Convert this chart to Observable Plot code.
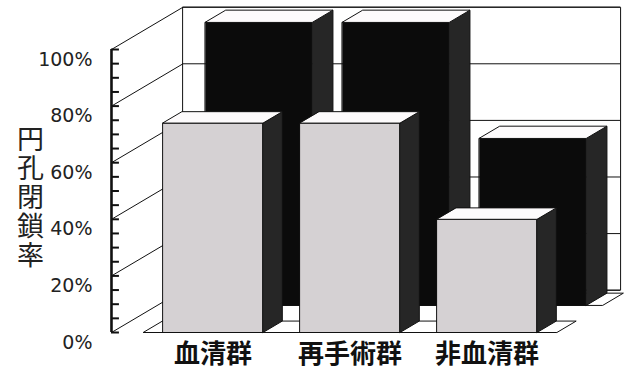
<!DOCTYPE html>
<html><head><meta charset="utf-8">
<script src="https://cdn.jsdelivr.net/npm/d3@7"></script>
<script src="https://cdn.jsdelivr.net/npm/@observablehq/plot@0.6"></script>
<style>body{margin:0;background:#fff}</style>
</head><body><div id="chart"></div>
<script>
// ---- data ----
const categories = ["血清群", "再手術群", "非血清群"];
const frontSeries = [74, 74, 40];    // light dotted bars (front row)
const backSeries = [100, 100, 59];   // black bars (back row)
const yTicks = [0, 20, 40, 60, 80, 100];
const yMinorTicks = [0, 5, 10, 15, 20, 25, 30, 35, 40, 45, 50, 55, 60, 65, 70, 75, 80, 85, 90, 95, 100];
const yTitle = "円孔閉鎖率";

// ---- 3D layout in scale units (category units / percent) ----
const AXIS_C = -0.741, WALL_RIGHT_C = 2.453;
const DEPTH_C = 0.522, DEPTH_V = 14.95;
const FLOOR_L = -0.507, FLOOR_R = 2.51;
const TICK_LEN = 0.058;
const proj = ([c, v, d]) => ({X: c + d * DEPTH_C, Y: v + d * DEPTH_V});

function box(id, c, half, v, d0, d1, fills) {
  const a = c - half, b = c + half;
  return [
    {id: id + "f", fill: fills.front, pts: [[a,0,d0],[b,0,d0],[b,v,d0],[a,v,d0]]},
    {id: id + "s", fill: fills.side,  pts: [[b,0,d0],[b,0,d1],[b,v,d1],[b,v,d0]]},
    {id: id + "t", fill: fills.top,   pts: [[a,v,d0],[b,v,d0],[b,v,d1],[a,v,d1]]}
  ];
}
function strip(id, d0, d1) {
  return [{id, fill: "#ffffff", pts: [[FLOOR_L,0,d0],[FLOOR_R,0,d0],[FLOOR_R,0,d1],[FLOOR_L,0,d1]]}];
}
const toPts = faces => faces.flatMap(f => f.pts.map(p => ({...proj(p), id: f.id, fill: f.fill})));

const wall = [{id: "wall", fill: "#ffffff", pts: [[AXIS_C,0,1],[WALL_RIGHT_C,0,1],[WALL_RIGHT_C,100,1],[AXIS_C,100,1]]}];
const backFaces = backSeries.flatMap((v, i) => box("b" + i, i, 0.39, v, 0.64, 0.93,
  {front: "#0b0b0b", side: "url(#darkdots)", top: "#fdfbfc"}));
const frontFaces = frontSeries.flatMap((v, i) => box("g" + i, i, 0.365, v, 0, 0.27,
  {front: "url(#dots)", side: "url(#darkdots)", top: "#fdfbfc"}));

const poly = (faces) => Plot.line(toPts(faces), {
  x: "X", y: "Y", z: "id", fill: "fill", stroke: "#111", strokeWidth: 1,
  curve: "linear-closed", strokeLinejoin: "miter"
});

const svg = Plot.plot({
  width: 629, height: 369,
  marginTop: 49, marginBottom: 37, marginLeft: 111, marginRight: 0,
  style: {background: "#fff"},
  x: {type: "linear", domain: [-1.5511, 3.0401], range: [0, 629], axis: null},
  y: {type: "linear", domain: [0, 100], range: [332, 49], axis: null},
  color: {type: "identity"},
  marks: [
    poly(wall),
    Plot.ruleY(yTicks, {y: v => v + DEPTH_V, x1: AXIS_C + DEPTH_C, x2: WALL_RIGHT_C + DEPTH_C, stroke: "#111", strokeWidth: 1}),
    Plot.link(yTicks, {x1: AXIS_C, y1: v => v, x2: AXIS_C + DEPTH_C, y2: v => v + DEPTH_V, stroke: "#111", strokeWidth: 1}),
    poly(strip("sb", 0.64, 0.93)),
    poly(backFaces),
    poly(strip("sf", 0, 0.27)),
    poly(frontFaces),
    Plot.ruleX([AXIS_C], {y1: 0, y2: 100, stroke: "#111", strokeWidth: 2.6}),
    Plot.ruleY(yMinorTicks, {y: v => v, x1: AXIS_C, x2: AXIS_C + TICK_LEN, stroke: "#111", strokeWidth: 2}),
    Plot.text(yTicks, {x: AXIS_C, y: v => v, text: v => v + "%", textAnchor: "end", dx: -19, dy: 10,
      fontFamily: "DejaVu Sans", fontSize: 19, fill: "#222"}),
    Plot.text(categories, {x: (d, i) => i, y: 0, text: d => d, dy: 22, lineAnchor: "middle",
      fontFamily: "Noto Sans CJK JP", fontWeight: "bold", fontSize: 26, fill: "#111"}),
    Plot.text([yTitle], {frameAnchor: "left", text: d => d, dx: -81, dy: 7,
      textAnchor: "middle", lineAnchor: "middle",
      fontFamily: "Noto Sans CJK JP", fontSize: 27, fill: "#222"})
  ]
});

// vertical writing for the y title (one text element)
d3.select(svg).selectAll("text")
  .filter(function () { return this.textContent === yTitle; })
  .attr("y", null).attr("dy", null)
  .attr("text-anchor", "middle")
  .attr("style", "writing-mode: vertical-rl; text-orientation: upright; letter-spacing: 2px;");

const ns = "http://www.w3.org/2000/svg";
const defs = document.createElementNS(ns, "defs");
defs.innerHTML = `
  <pattern id="dots" width="2" height="2" patternUnits="userSpaceOnUse">
    <rect width="2" height="2" fill="#e8e4e6"></rect>
    <rect width="1" height="1" fill="#9a9698"></rect>
  </pattern>
  <pattern id="darkdots" width="2" height="2" patternUnits="userSpaceOnUse">
    <rect width="2" height="2" fill="#1a1a1a"></rect>
    <rect width="1" height="1" fill="#4a4a4a"></rect>
  </pattern>`;
svg.insertBefore(defs, svg.firstChild);
document.getElementById("chart").appendChild(svg);
</script>
</body></html>
